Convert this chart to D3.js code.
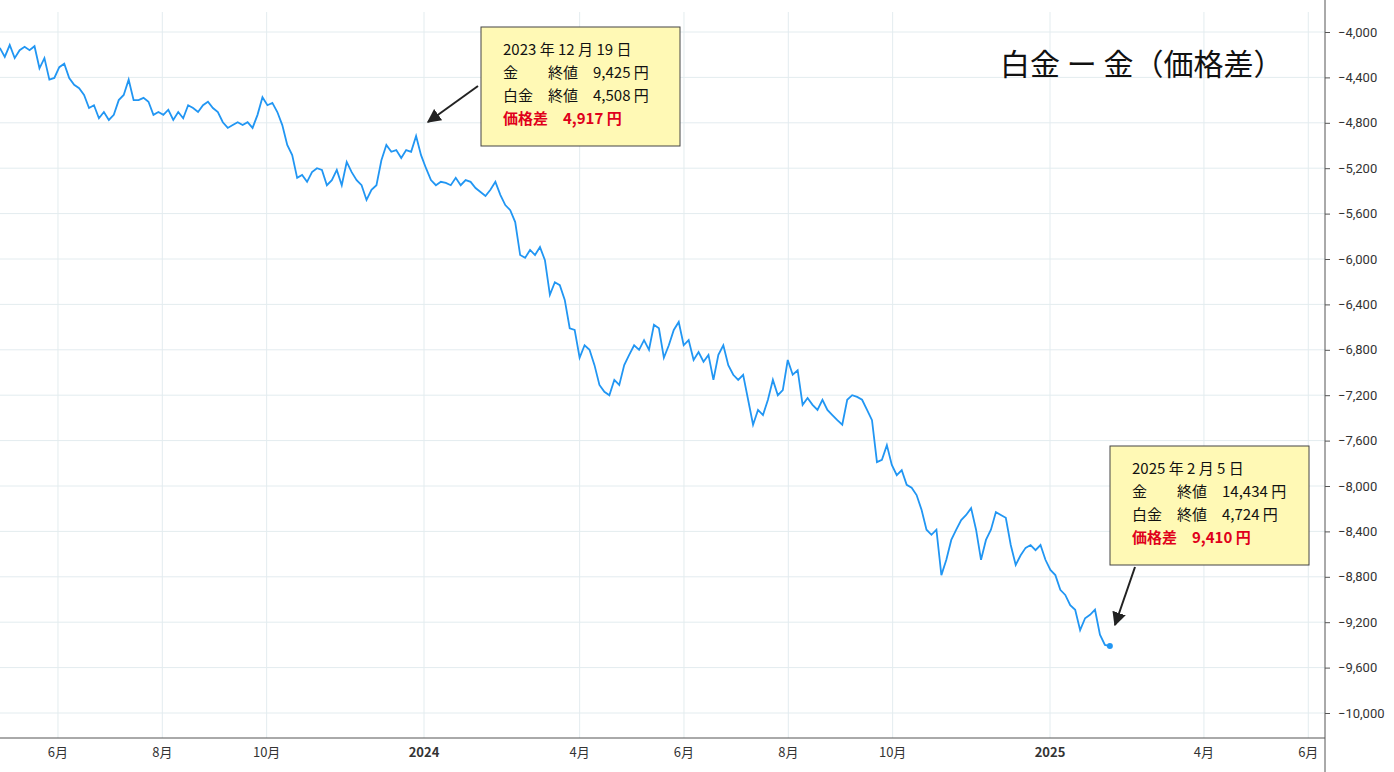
<!DOCTYPE html>
<html><head><meta charset="utf-8">
<script src="https://cdn.jsdelivr.net/npm/d3@7"></script>
<style>
body{margin:0;background:#fff;font-family:"Noto Sans CJK JP","Noto Sans",sans-serif;}
</style></head>
<body><svg id="c" width="1394" height="772"></svg>
<script>
// price spread (platinum - gold), yen, sampled through the period
const spread = [-4140,-4220,-4115,-4230,-4160,-4130,-4160,-4125,-4320,-4230,-4420,-4405,-4310,-4280,-4405,-4465,-4495,-4555,-4670,-4645,
-4760,-4705,-4775,-4730,-4600,-4555,-4420,-4600,-4600,-4580,-4615,-4730,-4705,-4730,-4685,-4775,-4705,-4760,-4645,-4670,
-4705,-4645,-4615,-4670,-4705,-4795,-4845,-4820,-4795,-4820,-4795,-4845,-4730,-4575,-4645,-4625,-4705,-4820,-4995,-5085,
-5285,-5260,-5320,-5235,-5200,-5215,-5350,-5305,-5215,-5350,-5145,-5235,-5305,-5350,-5480,-5390,-5350,-5130,-4995,-5055,
-5040,-5110,-5040,-5055,-4917,-5085,-5200,-5305,-5350,-5320,-5330,-5350,-5285,-5350,-5305,-5320,-5375,-5410,-5445,-5390,
-5320,-5435,-5525,-5570,-5675,-5965,-5990,-5920,-5965,-5895,-6010,-6315,-6205,-6230,-6360,-6610,-6625,-6870,-6760,-6800,
-6935,-7110,-7170,-7200,-7065,-7110,-6935,-6845,-6760,-6800,-6715,-6800,-6580,-6610,-6870,-6760,-6625,-6555,-6760,-6715,
-6890,-6820,-6905,-6845,-7065,-6845,-6760,-6935,-7020,-7065,-7020,-7240,-7460,-7330,-7375,-7240,-7065,-7200,-7155,-6890,
-7020,-6980,-7285,-7225,-7285,-7330,-7240,-7330,-7375,-7420,-7460,-7240,-7200,-7215,-7240,-7330,-7420,-7790,-7770,-7640,
-7815,-7905,-7860,-7990,-8015,-8080,-8210,-8385,-8430,-8385,-8785,-8650,-8475,-8385,-8300,-8255,-8195,-8385,-8650,-8475,
-8385,-8230,-8255,-8280,-8520,-8695,-8610,-8545,-8520,-8565,-8520,-8650,-8740,-8785,-8915,-8960,-9050,-9090,-9270,-9165,
-9135,-9090,-9310,-9400,-9410];
const startDate = new Date(2023, 3, 28);
const endDate = new Date(2025, 1, 5);
const yTicks = [-4000,-4400,-4800,-5200,-5600,-6000,-6400,-6800,-7200,-7600,-8000,-8400,-8800,-9200,-9600,-10000];
const xTicks = [[2023,5,"6月"],[2023,7,"8月"],[2023,9,"10月"],[2024,0,"2024"],[2024,3,"4月"],[2024,5,"6月"],[2024,7,"8月"],[2024,9,"10月"],[2025,0,"2025"],[2025,3,"4月"],[2025,5,"6月"]];
const notes = [
  {x:481,y:27,ax:[478,86],bx:[428,122],lines:["2023 年 12 月 19 日","金　　終値　9,425 円","白金　終値　4,508 円","価格差　4,917 円"]},
  {x:1110,y:446,ax:[1135,567],bx:[1115,625],lines:["2025 年 2 月 5 日","金　　終値　14,434 円","白金　終値　4,724 円","価格差　9,410 円"]}
];

const svg = d3.select('#c');
const x = d3.scaleTime().domain([new Date(2024,0,1), new Date(2025,0,1)]).range([424, 1050]);
const y = d3.scaleLinear().domain([-4000, -10000]).range([32, 713]);
const toDate = d3.scaleLinear().domain([0, spread.length - 1]).range([startDate.getTime(), endDate.getTime()]);
const pts = spread.map((v, i) => ({ d: new Date(toDate(i)), v }));

const grid = svg.append('g');
grid.selectAll('line.h').data(yTicks).enter().append('line')
  .attr('x1', 0).attr('x2', 1325).attr('y1', d => y(d)).attr('y2', d => y(d))
  .attr('stroke', '#e3ecef');
grid.selectAll('line.v').data(xTicks).enter().append('line')
  .attr('x1', d => x(new Date(d[0], d[1], 1))).attr('x2', d => x(new Date(d[0], d[1], 1)))
  .attr('y1', 12).attr('y2', 738).attr('stroke', '#e3ecef');

const yAxis = svg.append('g').attr('transform', 'translate(1325,0)')
  .call(d3.axisRight(y).tickValues(yTicks).tickSize(5).tickFormat(d3.format(',')));
yAxis.select('.domain').attr('d', 'M0,0V772').attr('stroke', '#555');
yAxis.selectAll('.tick line').attr('stroke', '#555');
yAxis.selectAll('text').attr('x', 13).attr('font-size', 13).attr('fill', '#333').attr('font-family', 'Roboto, sans-serif');

svg.append('line').attr('x1', 0).attr('x2', 1325).attr('y1', 738).attr('y2', 738).attr('stroke', '#555');
const xg = svg.append('g');
xg.selectAll('text').data(xTicks).enter().append('text')
  .attr('x', d => x(new Date(d[0], d[1], 1))).attr('y', 757)
  .attr('text-anchor', 'middle').attr('font-size', 13).attr('fill', '#333')
  .attr('font-weight', d => d[2].length === 4 ? 'bold' : 'normal')
  .text(d => d[2]);

svg.append('path').datum(pts)
  .attr('fill', 'none').attr('stroke', '#2196f3').attr('stroke-width', 1.8)
  .attr('d', d3.line().x(d => x(d.d)).y(d => y(d.v)));
const last = pts[pts.length - 1];
svg.append('circle').attr('cx', x(last.d)).attr('cy', y(last.v)).attr('r', 3).attr('fill', '#2196f3');

svg.append('text').attr('x', 1000).attr('y', 75).attr('font-size', 30).attr('fill', '#111')
  .text('白金 ー 金（価格差）');

svg.append('defs').append('marker').attr('id', 'ah').attr('viewBox', '0 0 10 10')
  .attr('refX', 9).attr('refY', 5).attr('markerWidth', 7).attr('markerHeight', 7).attr('orient', 'auto')
  .append('path').attr('d', 'M0,0L10,5L0,10z').attr('fill', '#222');

notes.forEach(n => {
  svg.append('line').attr('x1', n.ax[0]).attr('y1', n.ax[1]).attr('x2', n.bx[0]).attr('y2', n.bx[1])
    .attr('stroke', '#222').attr('stroke-width', 2).attr('marker-end', 'url(#ah)');
  svg.append('rect').attr('x', n.x).attr('y', n.y).attr('width', 199).attr('height', 119)
    .attr('fill', '#fff9b5').attr('stroke', '#444');
  n.lines.forEach((t, i) => {
    svg.append('text').attr('x', n.x + 22).attr('y', n.y + 28 + i * 23)
      .attr('font-size', 15).attr('fill', i === 3 ? '#e0001b' : '#111')
      .attr('font-weight', i === 3 ? 'bold' : 'normal').text(t);
  });
});
</script></body></html>
